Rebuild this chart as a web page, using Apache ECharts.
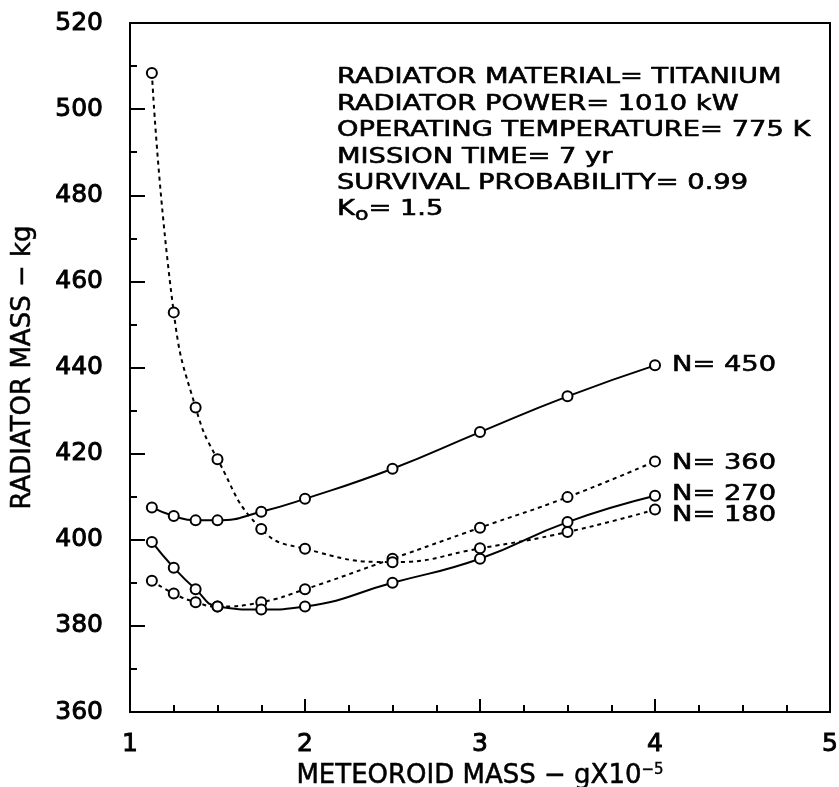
<!DOCTYPE html>
<html>
<head>
<meta charset="utf-8">
<title>Radiator mass vs meteoroid mass</title>
<script src="https://cdn.jsdelivr.net/npm/echarts@6/dist/echarts.min.js"></script>
<style>
  html, body { margin: 0; padding: 0; background: #fff; }
  #main { width: 839px; height: 787px; }
</style>
</head>
<body>
<div id="main"></div>
<script>
// Meteoroid mass (g x 10^-5) at which each configuration was evaluated
const meteoroidMass = [1.125, 1.25, 1.375, 1.5, 1.75, 2, 2.5, 3, 3.5, 4];

// Radiator mass (kg) for each number of heat pipes N
const massN450 = [407.5, 405.5, 404.5, 404.5, 406.5, 409.5, 416.5, 425.0, 433.3, 440.5];
const massN360 = [390.5, 387.5, 385.5, 384.5, 385.5, 388.5, 395.6, 402.8, 409.9, 418.2];
const massN270 = [399.5, 393.5, 388.5, 384.5, 383.8, 384.5, 390.0, 395.6, 404.1, 410.2];
const massN180 = [508.4, 452.8, 430.7, 418.7, 402.5, 397.9, 394.8, 398.0, 401.8, 407.0];

const seriesNames = ['N= 450', 'N= 360', 'N= 270', 'N= 180'];
const seriesValues = [massN450, massN360, massN270, massN180];
const seriesDotted = [false, true, false, true];

// Design conditions listed inside the plot
const conditionLines = [
  'RADIATOR MATERIAL= TITANIUM',
  'RADIATOR POWER= 1010 kW',
  'OPERATING TEMPERATURE= 775 K',
  'MISSION TIME= 7 yr',
  'SURVIVAL PROBABILITY= 0.99',
  'K{sub|o}= 1.5'
];

const FONT = '"DejaVu Sans", "Liberation Sans", sans-serif';

const chart = echarts.init(document.getElementById('main'), null, { renderer: 'canvas' });

const series = seriesValues.map((vals, i) => ({
  name: seriesNames[i],
  type: 'line',
  data: meteoroidMass.map((x, k) => [x, vals[k]]),
  smooth: 0.5,
  symbol: 'circle',
  symbolSize: 10,
  showAllSymbol: true,
  itemStyle: { color: '#fff', borderColor: '#000', borderWidth: 2 },
  lineStyle: { color: '#000', width: 2, type: seriesDotted[i] ? [4, 4] : 'solid' },
  emphasis: { disabled: true },
  z: 3
}));

const axisCommon = {
  type: 'value',
  axisLine: { show: true, lineStyle: { color: '#000', width: 2 } },
  splitLine: { show: false },
  axisLabel: {
    color: '#000', fontFamily: FONT, fontSize: 25,
    textBorderColor: '#000', textBorderWidth: 0.9
  },
  nameTextStyle: {
    color: '#000', fontFamily: FONT, fontSize: 26,
    textBorderColor: '#000', textBorderWidth: 0.5
  }
};

chart.setOption({
  animation: false,
  backgroundColor: '#fff',
  grid: {
    left: 130, right: 9, top: 23, bottom: 75,
    outerBoundsMode: 'none',
    containLabel: false,
    show: true, borderColor: '#000', borderWidth: 2, backgroundColor: 'transparent'
  },
  xAxis: Object.assign({}, axisCommon, {
    min: 1, max: 5, interval: 1,
    axisTick: { inside: true, length: 13, lineStyle: { color: '#000', width: 2 } },
    minorTick: { show: true, splitNumber: 4, length: 7, lineStyle: { color: '#000', width: 2 } },
    axisLabel: Object.assign({}, axisCommon.axisLabel, { margin: 20 }),
    name: 'METEOROID MASS − gX10{sup|−5}',
    nameLocation: 'middle',
    nameGap: 40,
    nameTextStyle: Object.assign({}, axisCommon.nameTextStyle, {
      lineHeight: 28,
      rich: {
        sup: {
          fontFamily: FONT, fontSize: 15, color: '#000', verticalAlign: 'top', lineHeight: 28,
          textBorderColor: '#000', textBorderWidth: 0.4
        }
      }
    })
  }),
  yAxis: Object.assign({}, axisCommon, {
    min: 360, max: 520, interval: 20,
    axisTick: { inside: true, length: 15, lineStyle: { color: '#000', width: 2 } },
    minorTick: { show: true, splitNumber: 2, length: 7, lineStyle: { color: '#000', width: 2 } },
    axisLabel: Object.assign({}, axisCommon.axisLabel, { margin: 27 }),
    name: 'RADIATOR MASS − kg',
    nameLocation: 'middle',
    nameGap: 94
  }),
  series: series
});

// Text drawn in a wide plotter-style lettering
const WIDE = 1.3;
const graphics = [];

conditionLines.forEach((line, i) => {
  graphics.push({
    type: 'text',
    x: 337,
    y: 78 + i * 26.4,
    scaleX: WIDE,
    silent: true,
    style: {
      text: line,
      fill: '#000',
      stroke: '#000',
      lineWidth: 0.6,
      font: '21px ' + FONT,
      verticalAlign: 'middle',
      align: 'left',
      rich: {
        sub: {
          fontFamily: FONT, fontSize: 17, fill: '#000', stroke: '#000', lineWidth: 0.6,
          verticalAlign: 'bottom', lineHeight: 28
        }
      },
      lineHeight: 26
    }
  });
});

// Series names placed beside the last point of each curve
const nameShift = [0, 2, -1, 6];
seriesValues.forEach((vals, i) => {
  const last = vals.length - 1;
  const p = chart.convertToPixel({ gridIndex: 0 }, [meteoroidMass[last], vals[last]]);
  graphics.push({
    type: 'text',
    x: p[0] + 17,
    y: p[1] + nameShift[i],
    scaleX: WIDE,
    silent: true,
    style: {
      text: seriesNames[i],
      fill: '#000',
      stroke: '#000',
      lineWidth: 0.6,
      font: '21px ' + FONT,
      verticalAlign: 'middle',
      align: 'left'
    }
  });
});

chart.setOption({ graphic: graphics });
</script>
</body>
</html>
